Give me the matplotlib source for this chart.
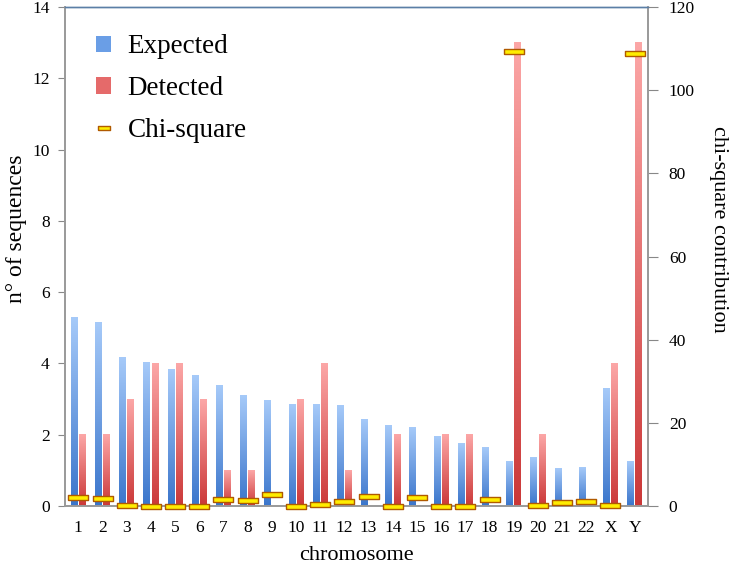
import numpy as np
import matplotlib
matplotlib.use("Agg")
import matplotlib.pyplot as plt
from matplotlib.colors import LinearSegmentedColormap
from matplotlib.patches import Patch
from matplotlib.lines import Line2D

plt.rcParams['font.family'] = ['Liberation Serif', 'DejaVu Serif']

chromosomes = ['1', '2', '3', '4', '5', '6', '7', '8', '9', '10', '11', '12',
               '13', '14', '15', '16', '17', '18', '19', '20', '21', '22', 'X', 'Y']
expected = [5.30, 5.16, 4.18, 4.04, 3.84, 3.65, 3.37, 3.11, 2.97, 2.86, 2.86, 2.83,
            2.44, 2.27, 2.19, 1.94, 1.74, 1.63, 1.26, 1.35, 1.04, 1.09, 3.31, 1.26]
detected = [2, 2, 3, 4, 4, 3, 1, 1, 0, 3, 4, 1,
            0, 2, 0, 2, 2, 0, 13, 2, 0, 0, 4, 13]
chi_square = [2.05, 1.94, 0.33, 0.0, 0.01, 0.11, 1.67, 1.43, 2.97, 0.01, 0.45, 1.18,
              2.44, 0.04, 2.19, 0.0, 0.04, 1.63, 109.4, 0.31, 1.04, 1.09, 0.14, 109.0]

blue_cm = LinearSegmentedColormap.from_list('b', ['#3a75cb', '#a6caf9'])
red_cm = LinearSegmentedColormap.from_list('r', ['#cb3838', '#fca7a7'])
grad = np.linspace(0, 1, 256).reshape(-1, 1)

fig = plt.figure(figsize=(7.33, 5.66), dpi=100)
ax = fig.add_axes([0.0887, 0.106, 0.7953, 0.8816])

x = np.arange(len(chromosomes))
w = 0.28
off = 0.17


def grad_bar(xc, h, cmap):
    if h <= 0:
        return
    ax.imshow(grad, cmap=cmap, origin='lower', aspect='auto',
              extent=[xc - w / 2, xc + w / 2, 0, h], zorder=2)


for i in range(len(x)):
    grad_bar(x[i] - off, expected[i], blue_cm)
    grad_bar(x[i] + off, detected[i], red_cm)

ax.set_xlim(-0.55, 23.55)
ax.set_ylim(0, 14)
ax.set_yticks(range(0, 15, 2))
ax.set_xticks(x)
ax.set_xticklabels(chromosomes)
ax.tick_params(axis='x', length=0, pad=10, labelsize=12.5)
ax.tick_params(axis='y', length=5, color='#888888', labelsize=12.5, pad=6)
ax.set_xlabel('chromosome', fontsize=16, labelpad=7)
ax.set_ylabel('n° of sequences', fontsize=17, labelpad=4)
ax.yaxis.label.set_y(0.555)

ax2 = ax.twinx()
ax2.set_ylim(0, 120)
ax2.set_yticks(range(0, 121, 20))
ax2.tick_params(axis='y', length=7, color='#888888', labelsize=12.5, pad=8)
ax2.set_ylabel('chi-square contribution', fontsize=16, rotation=270, labelpad=24)
ax2.yaxis.label.set_y(0.555)

rect = [(-1, -0.25), (1, -0.25), (1, 0.25), (-1, 0.25), (-1, -0.25)]
ax2.plot(x, chi_square, ls='none', marker=rect, ms=14.4, mfc='#ffec00',
         mec='#b05a00', mew=1.0, clip_on=False, zorder=5)

for a in (ax, ax2):
    for s in ('left', 'right', 'bottom'):
        a.spines[s].set_color('#999999')
        a.spines[s].set_linewidth(1.2)
    a.spines['top'].set_color('#5b7fa6')
    a.spines['top'].set_linewidth(1.0)

handles = [Patch(facecolor='#6a9ee6', edgecolor='none'),
           Patch(facecolor='#e56a6a', edgecolor='none'),
           Line2D([], [], ls='none', marker=rect, ms=9, mfc='#ffec00', mec='#b05a00', mew=1.0)]
ax2.legend(handles, ['Expected', 'Detected', 'Chi-square'], loc='upper left',
           bbox_to_anchor=(0.012, 0.994), frameon=False, fontsize=19.5,
           handlelength=0.55, handleheight=0.55, handletextpad=0.6, labelspacing=0.62)

fig.savefig('out.png', dpi=100)
